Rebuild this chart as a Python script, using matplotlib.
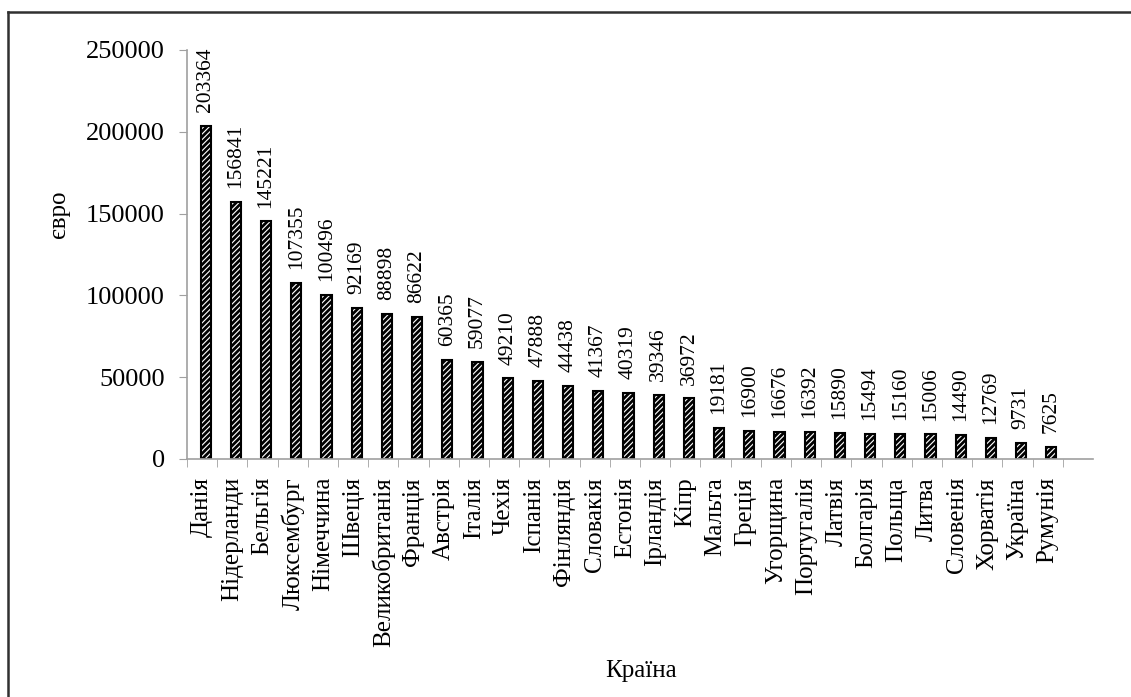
import numpy as np
import matplotlib.pyplot as plt
from matplotlib.lines import Line2D

plt.rcParams['font.family'] = ['Liberation Serif', 'DejaVu Serif']
plt.rcParams['hatch.linewidth'] = 2.0

krainy = ['Данія', 'Нідерланди', 'Бельгія', 'Люксембург', 'Німеччина', 'Швеція',
          'Великобританія', 'Франція', 'Австрія', 'Італія', 'Чехія', 'Іспанія',
          'Фінляндія', 'Словакія', 'Естонія', 'Ірландія', 'Кіпр', 'Мальта', 'Греція',
          'Угорщина', 'Португалія', 'Латвія', 'Болгарія', 'Польща', 'Литва',
          'Словенія', 'Хорватія', 'Україна', 'Румунія']
znachennia = [203364, 156841, 145221, 107355, 100496, 92169, 88898, 86622, 60365,
              59077, 49210, 47888, 44438, 41367, 40319, 39346, 36972, 19181, 16900,
              16676, 16392, 15890, 15494, 15160, 15006, 14490, 12769, 9731, 7625]
y_ticks = [0, 50000, 100000, 150000, 200000, 250000]

fig = plt.figure(figsize=(11.31, 6.97), dpi=100)
ax = fig.add_axes([0.1653, 0.3415, 0.8011, 0.5868])

x = np.arange(len(krainy))
zsuv = 0.12
ax.bar(x + zsuv, znachennia, width=0.34, color='white', edgecolor='black',
       hatch='//////', linewidth=1.5)

for xi, v in zip(x, znachennia):
    ax.annotate(str(v), (xi + zsuv, v), xytext=(0, 10), textcoords='offset points',
                rotation=90, ha='center', va='bottom', fontsize=15.5)

ax.set_xlim(-0.5, len(krainy) + 0.5)
ax.set_ylim(0, 250000)
ax.set_yticks(y_ticks)
ax.set_yticklabels([str(t) for t in y_ticks], fontsize=19)
ax.set_xticks(x)
ax.set_xticklabels(krainy, rotation=90, fontsize=18)
ax.set_xticks(np.arange(len(krainy) + 1) - 0.5, minor=True)
ax.tick_params(axis='x', which='major', length=0, pad=13)
ax.tick_params(axis='x', which='minor', length=6, color='#a0a0a0', direction='out')
ax.tick_params(axis='y', length=6, color='#a0a0a0', pad=10)

for s in ['top', 'right']:
    ax.spines[s].set_visible(False)
for s in ['left', 'bottom']:
    ax.spines[s].set_color('#a0a0a0')
    ax.spines[s].set_linewidth(1.2)

ax.set_ylabel('євро', fontsize=18)
ax.yaxis.set_label_coords(-0.129, 0.599)
fig.text(0.567, 0.038, 'Країна', ha='center', va='center', fontsize=18)

# рамка
fig.add_artist(Line2D([8 / 1131, 8 / 1131], [0, 1 - 12 / 697], color='#303030', lw=1.8))
fig.add_artist(Line2D([8 / 1131, 1], [1 - 12 / 697, 1 - 12 / 697], color='#303030', lw=1.8))

fig.savefig('out.png', dpi=100)
